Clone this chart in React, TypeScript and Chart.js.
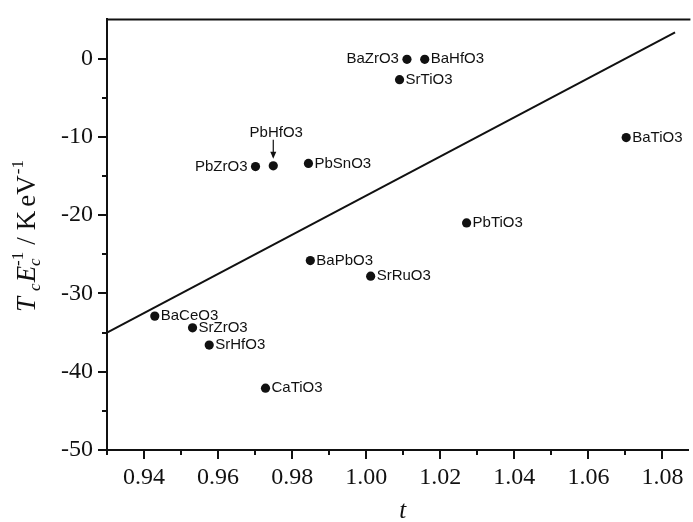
import React, { useEffect, useRef } from "react";
import { Chart, registerables } from "chart.js";

Chart.register(...registerables);

// ---- data ----
const compounds = [
  "BaZrO3", "BaHfO3", "SrTiO3", "BaTiO3", "PbZrO3", "PbHfO3", "PbSnO3",
  "PbTiO3", "BaPbO3", "SrRuO3", "BaCeO3", "SrZrO3", "SrHfO3", "CaTiO3",
];
const tValues = [
  1.011, 1.0158, 1.009, 1.0702, 0.9701, 0.9749, 0.9844,
  1.0271, 0.9849, 1.0012, 0.9429, 0.9531, 0.9576, 0.9728,
];
const tcEcValues = [
  -0.1, -0.1, -2.7, -10.1, -13.8, -13.7, -13.4,
  -21.0, -25.8, -27.8, -32.9, -34.4, -36.6, -42.1,
];
const labelPlacement = [
  "left", "right", "right", "right", "left", "above", "right",
  "right", "right", "right", "right", "right", "right", "right",
];
const fitLineT = [0.93, 1.0834];
const fitLineY = [-35, 3.35];

const xMajorTicks = [0.94, 0.96, 0.98, 1.0, 1.02, 1.04, 1.06, 1.08];
const xMinorTicks = [0.93, 0.95, 0.97, 0.99, 1.01, 1.03, 1.05, 1.07];
const yMajorTicks = [0, -10, -20, -30, -40, -50];
const yMinorTicks = [-5, -15, -25, -35, -45];

const SERIF = "'Liberation Serif', 'Times New Roman', serif";
const SANS = "'Liberation Sans', Arial, sans-serif";

const overlayPlugin = {
  id: "overlay",
  afterDraw(chart: any) {
    const ctx = chart.ctx as CanvasRenderingContext2D;
    const xs = chart.scales.x;
    const ys = chart.scales.y;
    const area = chart.chartArea;
    ctx.save();
    ctx.strokeStyle = "#111";
    ctx.fillStyle = "#111";
    // top frame line
    ctx.lineWidth = 2;
    ctx.beginPath();
    ctx.moveTo(area.left - 1, area.top);
    ctx.lineTo(area.right + 2, area.top);
    ctx.stroke();
    // minor ticks
    for (const v of xMinorTicks) {
      const px = Math.round(xs.getPixelForValue(v));
      ctx.beginPath();
      ctx.moveTo(px, area.bottom);
      ctx.lineTo(px, area.bottom + 5);
      ctx.stroke();
    }
    for (const v of yMinorTicks) {
      const py = Math.round(ys.getPixelForValue(v));
      ctx.beginPath();
      ctx.moveTo(area.left, py);
      ctx.lineTo(area.left - 5, py);
      ctx.stroke();
    }
    // point labels
    ctx.font = `15px ${SANS}`;
    ctx.textBaseline = "middle";
    compounds.forEach((name, i) => {
      const px = xs.getPixelForValue(tValues[i]);
      const py = ys.getPixelForValue(tcEcValues[i]);
      const place = labelPlacement[i];
      if (place === "right") {
        ctx.textAlign = "left";
        ctx.fillText(name, px + 6, py);
      } else if (place === "left") {
        ctx.textAlign = "right";
        ctx.fillText(name, px - 8, py);
      } else {
        ctx.textAlign = "center";
        ctx.fillText(name, px + 3, py - 33);
        ctx.lineWidth = 1.2;
        ctx.beginPath();
        ctx.moveTo(px, py - 26);
        ctx.lineTo(px, py - 9);
        ctx.stroke();
        ctx.beginPath();
        ctx.moveTo(px - 3, py - 14);
        ctx.lineTo(px, py - 7);
        ctx.lineTo(px + 3, py - 14);
        ctx.closePath();
        ctx.fill();
      }
    });
    // x title
    ctx.font = `italic 25px ${SERIF}`;
    ctx.textAlign = "center";
    ctx.textBaseline = "alphabetic";
    ctx.fillText("t", (area.left + area.right) / 2 + 5, 518);

    // y title (rotated)
    const pieces: { text: string; font: string; dy: number; gap: number; stack?: boolean }[] = [
      { text: "T", font: `italic 27px ${SERIF}`, dy: 0, gap: 0 },
      { text: "c", font: `italic 17px ${SERIF}`, dy: 5, gap: 6 },
      { text: "E", font: `italic 27px ${SERIF}`, dy: 0, gap: 1 },
      { text: "c", font: `italic 17px ${SERIF}`, dy: 5, gap: 0, stack: true },
      { text: "-1", font: `17px ${SERIF}`, dy: -12, gap: 0 },
      { text: "/", font: `27px ${SERIF}`, dy: 0, gap: 7 },
      { text: "K", font: `27px ${SERIF}`, dy: 0, gap: 7 },
      { text: "eV", font: `27px ${SERIF}`, dy: 0, gap: 4 },
      { text: "-1", font: `17px ${SERIF}`, dy: -12, gap: 1 },
    ];
    const widths: number[] = pieces.map((p) => {
      ctx.font = p.font;
      return ctx.measureText(p.text).width;
    });
    const advance = (i: number) => {
      if (pieces[i].stack) return 0;
      if (i > 0 && pieces[i - 1].stack) return Math.max(widths[i - 1], widths[i]);
      return widths[i];
    };
    let total = 0;
    pieces.forEach((p, i) => {
      total += p.gap + advance(i);
    });
    ctx.translate(35, 236);
    ctx.rotate(-Math.PI / 2);
    ctx.textAlign = "left";
    let cx = -total / 2;
    pieces.forEach((p, i) => {
      ctx.font = p.font;
      cx += p.gap;
      ctx.fillText(p.text, cx, p.dy);
      cx += advance(i);
    });
    ctx.restore();
  },
};

export default function App() {
  const canvasRef = useRef<HTMLCanvasElement | null>(null);

  useEffect(() => {
    document.body.style.margin = "0";
    const canvas = canvasRef.current!;
    const points = tValues.map((t, i) => ({ x: t, y: tcEcValues[i] }));
    const line = fitLineT.map((t, i) => ({ x: t, y: fitLineY[i] }));
    const tickFont = { family: SERIF, size: 24 };
    const chart = new Chart(canvas, {
      type: "scatter",
      data: {
        datasets: [
          {
            data: line,
            showLine: true,
            borderColor: "#111",
            borderWidth: 2,
            pointRadius: 0,
            pointHoverRadius: 0,
          } as any,
          {
            data: points,
            backgroundColor: "#111",
            borderWidth: 0,
            pointRadius: 4.6,
          },
        ],
      },
      options: {
        animation: false,
        responsive: false,
        devicePixelRatio: 1,
        layout: { padding: { top: 11, right: 1, left: 0, bottom: 0 } },
        plugins: { legend: { display: false }, tooltip: { enabled: false } },
        scales: {
          x: {
            type: "linear",
            min: 0.93,
            max: 1.087,
            afterFit: (s: any) => {
              s.height = 72;
            },
            afterBuildTicks: (s: any) => {
              s.ticks = xMajorTicks.map((v) => ({ value: v }));
            },
            border: { display: true, color: "#111", width: 2 },
            grid: {
              display: true,
              drawOnChartArea: false,
              drawTicks: true,
              tickLength: 9,
              color: "#111",
              lineWidth: 2,
            },
            ticks: {
              color: "#111",
              font: tickFont,
              padding: 4,
              maxRotation: 0,
              autoSkip: false,
              callback: (v: any) => Number(v).toFixed(2),
            },
          },
          y: {
            type: "linear",
            min: -50,
            max: 5,
            afterFit: (s: any) => {
              s.width = 107;
            },
            afterBuildTicks: (s: any) => {
              s.ticks = yMajorTicks.map((v) => ({ value: v }));
            },
            border: { display: true, color: "#111", width: 2 },
            grid: {
              display: true,
              drawOnChartArea: false,
              drawTicks: true,
              tickLength: 9,
              color: "#111",
              lineWidth: 2,
            },
            ticks: {
              color: "#111",
              font: tickFont,
              padding: 5,
              autoSkip: false,
              callback: (v: any) => String(v),
            },
          },
        },
      },
      plugins: [overlayPlugin],
    });
    return () => chart.destroy();
  }, []);

  return (
    <div style={{ width: 693, height: 522, background: "#fff" }}>
      <canvas ref={canvasRef} width={693} height={522} style={{ display: "block" }} />
    </div>
  );
}
